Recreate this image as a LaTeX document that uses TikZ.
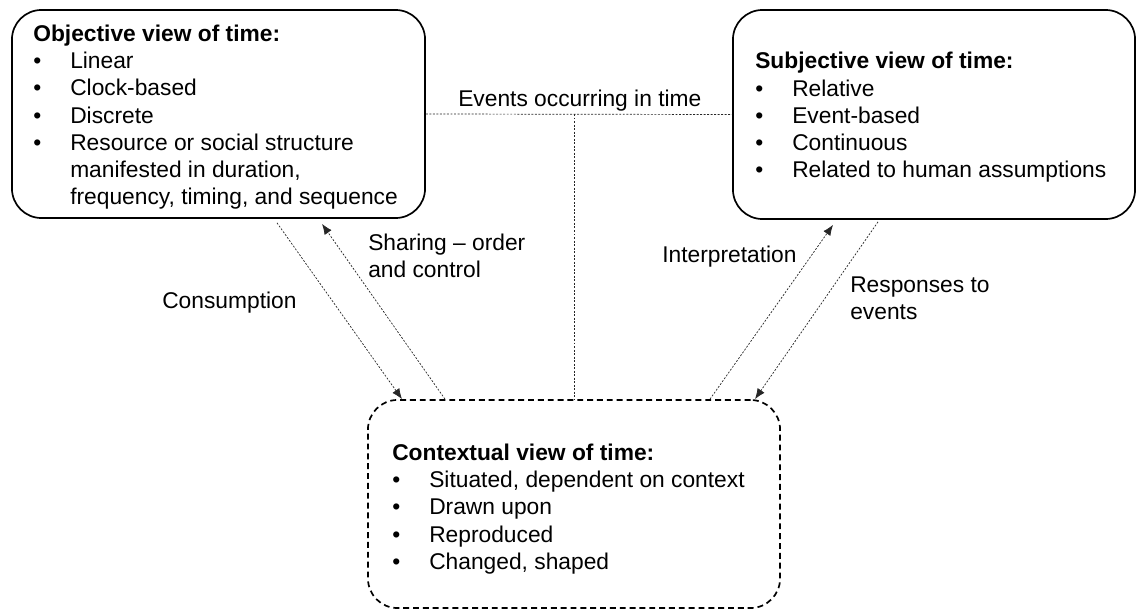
\documentclass[tikz,border=0pt]{standalone}
\usepackage{fontspec}
\setmainfont{Liberation Sans}
\usetikzlibrary{calc,arrows.meta}
\newcommand{\bitem}[1]{\makebox[26.3pt][l]{\textbullet}#1}
\newcommand{\cont}[1]{\hspace*{26.3pt}#1}
\begin{document}
\begin{tikzpicture}[x=0.025cm,y=-0.025cm,
  every node/.style={font=\fontsize{16.2}{19.4}\selectfont},
  solidbox/.style={draw=black, line width=1.2pt, rounded corners=21pt, rectangle, inner sep=0pt},
  dashbox/.style={draw=black, line width=1.2pt, rounded corners=21pt, rectangle, inner sep=0pt, dash pattern=on 4.2pt off 2.8pt},
  txt/.style={inner sep=0pt, align=left},
  thin dotted/.style={draw=black!85, line width=0.5pt, dash pattern=on 1.4pt off 1.1pt},
  arr/.style={thin dotted, -{Latex[length=7.5pt,width=6pt]}}
]
\useasboundingbox (0,0) rectangle (1137,611);

% boxes
\node[solidbox, minimum width=10.325cm, minimum height=5.2cm] (obj) at (218.5,114) {};
\node[solidbox, minimum width=10.05cm, minimum height=5.225cm] (subj) at (934,114.5) {};
\node[dashbox, minimum width=10.3cm, minimum height=5.2cm] (ctx) at (574,504) {};

% box texts
\node[txt, anchor=north west] (objt) at (33,19.9) {\rule{0pt}{15pt}\textbf{Objective view of time:}\\
\bitem{Linear}\\
\bitem{Clock-based}\\
\bitem{Discrete}\\
\bitem{Resource or social structure}\\
\cont{manifested in duration,}\\
\cont{frequency, timing, and sequence}};

\node[txt, anchor=north west] (subjt) at (755,47.5) {\rule{0pt}{15pt}\textbf{Subjective view of time:}\\
\bitem{Relative}\\
\bitem{Event-based}\\
\bitem{Continuous}\\
\bitem{Related to human assumptions}};

\node[txt, anchor=north west] (ctxt) at (392,439) {\rule{0pt}{15pt}\textbf{Contextual view of time:}\\
\bitem{Situated, dependent on context}\\
\bitem{Drawn upon}\\
\bitem{Reproduced}\\
\bitem{Changed, shaped}};

% events line
\coordinate (evj) at (obj.east -| ctx.north);
\draw[thin dotted] (obj.east) -- (subj.west);
\draw[thin dotted] (evj) -- (ctx.north);
\node[txt, anchor=base west] (evl) at (458,107) {Events occurring in time};

% arrows
\draw[arr] ($(obj.south)+(58.5,4)$) -- ($(ctx.north)+(-172,0)$);
\draw[arr] ($(ctx.north)+(-129,0)$) -- ($(obj.south)+(103.5,5)$);
\draw[arr] ($(ctx.north)+(136,0)$) -- ($(subj.south)+(-101,5)$);
\draw[arr] ($(subj.south)+(-56,2)$) -- ($(ctx.north)+(181,0)$);

% labels
\node[txt, anchor=base west] (lcons) at (162,308) {Consumption};
\node[txt, anchor=north west] (lshare) at (368,229) {\rule{0pt}{15pt}Sharing -- order\\and control};
\node[txt, anchor=base west] (linterp) at (662,262) {Interpretation};
\node[txt, anchor=north west] (lresp) at (850,271) {\rule{0pt}{15pt}Responses to\\events};
\end{tikzpicture}
\end{document}
